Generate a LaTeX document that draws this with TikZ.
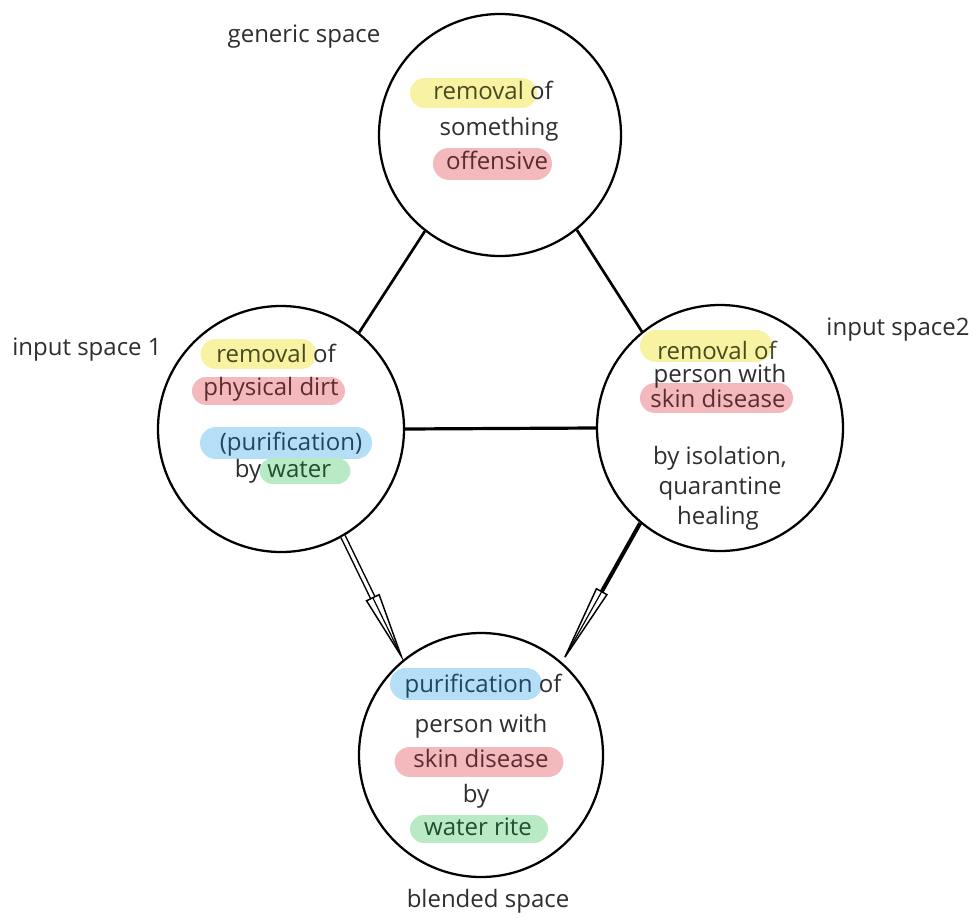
\documentclass[tikz,border=0pt]{standalone}
\usepackage{fontspec}
\setmainfont{Open Sans}
\usetikzlibrary{calc}
\definecolor{txtgray}{HTML}{2E2E2E}
\definecolor{hyellow}{HTML}{F7F3A2}
\definecolor{hpink}{HTML}{F3B9BD}
\definecolor{hblue}{HTML}{B5DFF7}
\definecolor{hgreen}{HTML}{B8EAC6}
\definecolor{tyellow}{HTML}{4A4A22}
\definecolor{tpink}{HTML}{5A2C30}
\definecolor{tblue}{HTML}{22465E}
\definecolor{tgreen}{HTML}{224D30}
\newcommand\dfont{\fontsize{18pt}{21pt}\selectfont}
\tikzset{
  spacecircle/.style={circle, draw=black, line width=1.7pt, inner sep=0pt, minimum size=#1},
  txt/.style={font=\dfont, text=txtgray, inner sep=0pt, anchor=mid},
  marker/.style={line cap=round, draw=#1},
  link/.style={draw=black, line width=2pt},
  hlink/.style={draw=black, line width=2.4pt},
}
\begin{document}
\begin{tikzpicture}[x=0.75pt,y=-0.75pt]
\useasboundingbox (0,0) rectangle (974,917);
\fill[white] (0,0) rectangle (974,917);

% circles
\node[spacecircle=181.5pt] (gen) at (500,135) {};
\node[spacecircle=184.5pt] (in1) at (281,429) {};
\node[spacecircle=184.5pt] (in2) at (720,428) {};
\node[spacecircle=183pt] (blend) at (481,755) {};

% highlights
\draw[marker=hyellow, line width=22.5pt] (425,93) -- (522,93);
\draw[marker=hpink, line width=24pt] (449,163.5) -- (536,163.5);
\draw[marker=hyellow, line width=23pt] (216,354) -- (301,354);
\draw[marker=hpink, line width=21pt] (206,391) -- (331,391);
\draw[marker=hblue, line width=24pt] (216,443) -- (356,443);
\draw[marker=hgreen, line width=20pt] (273,471) -- (337,471);
\draw[marker=hyellow, line width=24pt] (656,346) -- (756,346);
\draw[marker=hpink, line width=22.5pt] (655,398) -- (778,398);
\draw[marker=hblue, line width=24pt] (406,684) -- (526,684);
\draw[marker=hpink, line width=23pt] (410,762) -- (548,762);
\draw[marker=hgreen, line width=21pt] (424,829) -- (534,829);

% texts
\node[txt] (g1) at (493,96) {\textcolor{tyellow}{removal} of};
\node[txt] (g2) at (499,132) {something};
\node[txt, text=tpink] (g3) at (497,166) {offensive};

\node[txt] (a1) at (276,359) {\textcolor{tyellow}{removal} of};
\node[txt, text=tpink] (a2) at (271,392) {physical dirt};
\node[txt, text=tblue] (a3) at (291,447) {(purification)};
\node[txt] (a4) at (283,474) {by \textcolor{tgreen}{water}};

\node[txt, text=tyellow] (b1) at (717,356) {removal of};
\node[txt] (b2) at (720,379) {person with};
\node[txt, text=tpink] (b3) at (718,404) {skin disease};
\node[txt] (b4) at (720,461) {by isolation,};
\node[txt] (b5) at (720,491) {quarantine};
\node[txt] (b6) at (718,521) {healing};

\node[txt] (c1) at (483,689) {\textcolor{tblue}{purification} of};
\node[txt] (c2) at (481,729) {person with};
\node[txt, text=tpink] (c3) at (481,764) {skin disease};
\node[txt] (c4) at (476,799) {by};
\node[txt, text=tgreen] (c5) at (478,832) {water rite};

% labels
\node[txt] (lgen) at (304,39) {generic space};
\node[txt] (lin1) at (87,352) {input space 1};
\node[txt] (lin2) at (898,332) {input space2};
\node[txt] (lblend) at (488,904) {blended space};

% connectors
\draw[link] (gen.-128.5) -- (in1.51.3);
\draw[link] (gen.-51.2) -- (in2.129.8);
\draw[hlink] (in1.east) -- (in2.west);

% arrow from input 1 (double line, open head)
\path (in1.-60.4) coordinate (sL);
\path (blend.center) ++(128.9:95.25pt) coordinate (tL);
\coordinate (bL) at ($(tL)!48.75pt!(sL)$);
\draw[double=white, double distance=2.4pt, line width=1.1pt] (sL) -- (bL);
\draw[line width=1.1pt, line join=miter] ($(bL)!5.25pt!90:(tL)$) -- (tL) -- ($(bL)!5.25pt!-90:(tL)$) -- cycle;
\draw[line width=0.9pt] (bL) -- (tL);

% arrow from input 2 (thick line, open head)
\path (in2.-130) coordinate (sR);
\path (blend.center) ++(49.4:96.75pt) coordinate (tR);
\coordinate (bR) at ($(tR)!56.25pt!(sR)$);
\draw[line width=3pt] (sR) -- (bR);
\draw[line width=1.1pt, line join=miter] ($(bR)!4.5pt!90:(tR)$) -- (tR) -- ($(bR)!4.5pt!-90:(tR)$) -- cycle;
\draw[line width=0.9pt] (bR) -- (tR);
\end{tikzpicture}
\end{document}
